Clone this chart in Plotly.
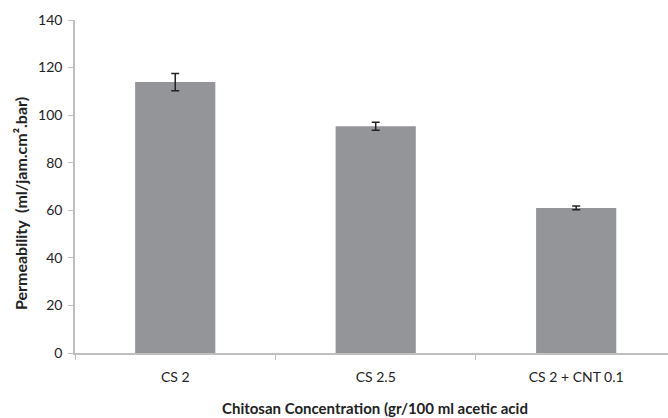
import plotly.graph_objects as go

# Membrane permeability by chitosan formulation
categories = ["CS 2", "CS 2.5", "CS 2 + CNT 0.1"]
permeability = [113.9, 95.3, 61.0]
std_error = [3.6, 1.7, 0.8]
y_ticks = [0, 20, 40, 60, 80, 100, 120, 140]

x_title = "<b>Chitosan Concentration (gr/100 ml acetic acid</b>"
y_title = "<b>Permeability\u00a0\u00a0(ml/jam.cm².bar)</b>"

font_family = "Lato, 'Open Sans', sans-serif"
W, H = 668, 418

fig = go.Figure(
    go.Bar(
        x=categories,
        y=permeability,
        width=0.4,
        marker=dict(color="#939598", line=dict(width=0)),
        error_y=dict(
            type="data",
            array=std_error,
            visible=True,
            color="#222222",
            thickness=1.5,
            width=4,
        ),
    )
)

fig.update_layout(
    width=W,
    height=H,
    margin=dict(l=75, r=0, t=20, b=65),
    paper_bgcolor="white",
    plot_bgcolor="white",
    showlegend=False,
    font=dict(family=font_family, size=14, color="#222222"),
    bargap=0.6,
)

fig.update_xaxes(
    type="category",
    range=[-0.5, 2.458],
    showgrid=False,
    showline=True,
    linecolor="#bfbfbf",
    linewidth=1.5,
    ticks="outside",
    tickson="boundaries",
    ticklen=5,
    tickcolor="#bfbfbf",
    ticklabelstandoff=10,
    tickfont=dict(size=14, color="#222222"),
)

fig.update_yaxes(
    range=[0, 140],
    tickvals=y_ticks,
    showgrid=False,
    zeroline=False,
    showline=True,
    linecolor="#bfbfbf",
    linewidth=1.5,
    ticks="outside",
    ticklen=5,
    tickcolor="#bfbfbf",
    ticklabelstandoff=3,
    tickfont=dict(size=14, color="#222222"),
)

# Axis titles placed in paper coordinates
fig.add_annotation(
    text=x_title,
    xref="paper", yref="paper",
    x=(375 - 75) / (W - 75), y=-(408 - 353) / (353 - 20),
    xanchor="center", yanchor="middle",
    showarrow=False,
    font=dict(size=15, color="#222222"),
)
fig.add_annotation(
    text=y_title,
    xref="paper", yref="paper",
    x=-(75 - 20) / (W - 75), y=(353 - 204) / (353 - 20),
    xanchor="center", yanchor="middle",
    textangle=-90,
    showarrow=False,
    font=dict(size=16, color="#222222"),
)

fig.write_html("out.html")
